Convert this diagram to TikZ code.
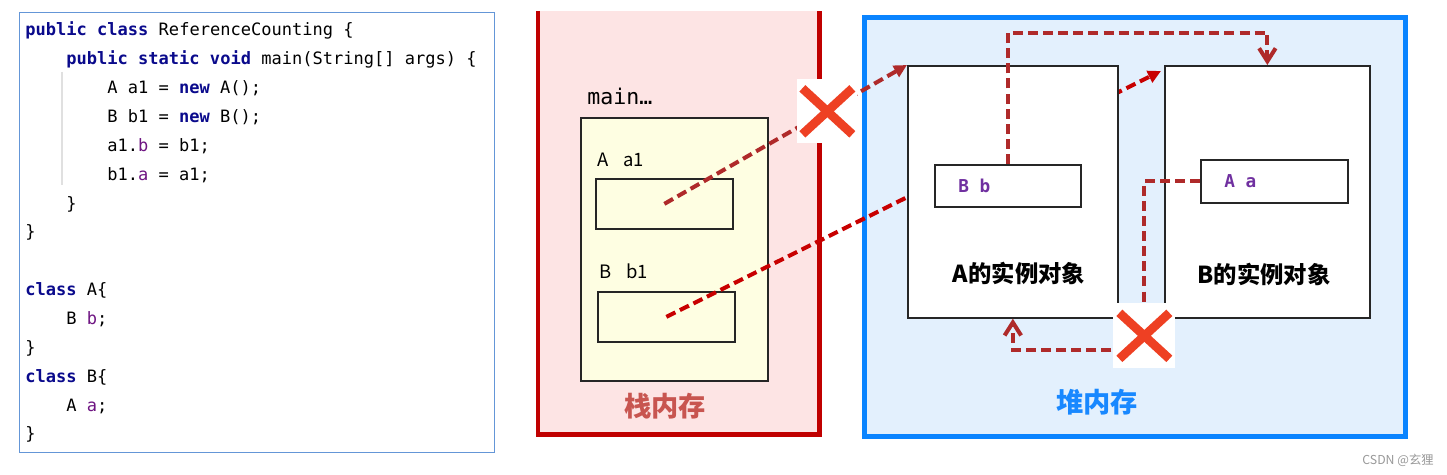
\documentclass[tikz,border=0pt]{standalone}
\usepackage{fontspec}
\setmonofont{DejaVu Sans Mono}
\newfontfamily\cjk{Noto Sans CJK SC}
\usetikzlibrary{arrows.meta, positioning, calc}

\definecolor{motcle}{RGB}{10,10,140}
\definecolor{violetchamp}{RGB}{110,20,130}
\definecolor{bordcode}{RGB}{100,150,215}
\definecolor{rougepile}{RGB}{192,0,0}
\definecolor{fondpile}{RGB}{253,228,228}
\definecolor{textepile}{RGB}{200,85,80}
\definecolor{jaunemain}{RGB}{254,254,226}
\definecolor{bleutas}{RGB}{10,132,255}
\definecolor{fondtas}{RGB}{227,240,253}
\definecolor{textetas}{RGB}{24,136,255}
\definecolor{brique}{RGB}{175,42,42}
\definecolor{rougevif}{RGB}{200,0,0}
\definecolor{croixrouge}{RGB}{238,64,35}
\definecolor{violetlabel}{RGB}{112,48,160}

\newcommand{\motcle}[1]{{\bfseries\color{motcle}#1}}
\newcommand{\attribut}[1]{{\color{violetchamp}#1}}

\begin{document}
\begin{tikzpicture}[
  x=0.02cm, y=-0.02cm,
  font=\cjk,
  zone/.style={
    anchor=north west,
    inner sep=0pt
  },
  cadrecode/.style={
    zone,
    draw=bordcode,
    line width=0.8pt
  },
  ligne/.style={
    font=\ttfamily\fontsize{9.7}{11}\selectfont,
    anchor=base west,
    inner sep=0pt
  },
  boite/.style={
    zone,
    draw=black!85,
    line width=1pt
  },
  objet/.style={
    boite,
    fill=white
  },
  etiquette/.style={
    font=\cjk\fontsize{10.5}{12}\selectfont,
    anchor=base west,
    inner sep=0pt
  },
  champ/.style={
    font=\ttfamily\bfseries\fontsize{10.1}{12}\selectfont,
    text=violetlabel,
    anchor=base west,
    inner sep=0pt
  },
  titre/.style={
    font=\cjk\bfseries\fontsize{15.5}{18}\selectfont,
    inner sep=0pt
  },
  nomobjet/.style={
    font=\cjk\bfseries\fontsize{13.3}{15}\selectfont,
    inner sep=0pt
  },
  pointille/.style={
    line width=2.3pt,
    dash pattern=on 5.7pt off 2.9pt
  },
  flechepleine/.style={
    pointille,
    -{Triangle[length=2.6mm, width=2.5mm]}
  },
  flechevide/.style={
    pointille,
    draw=brique,
    -{Straight Barb[length=2.6mm, width=3.3mm]}
  },
  croix/.style={
    draw=croixrouge,
    line width=5pt
  }
]
  \fill[white] (0,0) rectangle (1447,475);
  \useasboundingbox (0,0) rectangle (1447,475);

  \node[cadrecode, minimum width=9.5cm, minimum height=8.8cm] (code) at (19,12) {};
  \draw[black!12, line width=0.6pt] ($(code.north west)+(43,60)$) -- ++(0,113);
  \foreach \n/\x/\txt in {
      0/25/{\motcle{public} \motcle{class} ReferenceCounting \{},
      1/66/{\motcle{public} \motcle{static} \motcle{void} main(String[] args) \{},
      2/107/{A a1 = \motcle{new} A();},
      3/107/{B b1 = \motcle{new} B();},
      4/107/{a1.\attribut{b} = b1;},
      5/107/{b1.\attribut{a} = a1;},
      6/66/{\}},
      7/25/{\}},
      9/25/{\motcle{class} A\{},
      10/66/{B \attribut{b};},
      11/25/{\}},
      12/25/{\motcle{class} B\{},
      13/66/{A \attribut{a};},
      14/25/{\}}} {
    \node[ligne] (ligne\n) at (\x, 36+28.85*\n) {\txt};
  }

  \node[zone, fill=fondpile, minimum width=5.62cm, minimum height=8.45cm] (pile) at (538,11) {};
  \draw[rougepile, line width=2.8pt] (pile.north west) -- (pile.south west) -- (pile.south east) -- (pile.north east);
  \node[boite, fill=jaunemain, minimum width=3.74cm, minimum height=5.26cm] (main) at (580,117) {};
  \node[ligne, font=\ttfamily\fontsize{12.3}{14}\selectfont] (nommain) at (587,105) {main…};
  \node[etiquette] (nomA1) at (597,167) {A\hspace{0.3cm}a1};
  \node[boite, minimum width=2.74cm, minimum height=1cm] (a1) at (595,178) {};
  \node[etiquette] (nomB1) at (599,279) {B\hspace{0.3cm}b1};
  \node[boite, minimum width=2.74cm, minimum height=1cm] (b1) at (597,291) {};
  \node[titre, text=textepile] (txtpile) at (665,406) {栈内存};

  \node[zone, fill=fondtas, draw=bleutas, line width=2.8pt, minimum width=10.82cm, minimum height=8.38cm] (tas) at (862,15) {};
  \node[titre, text=textetas] (txttas) at (1097,402) {堆内存};

  \node[objet, minimum width=4.1cm, minimum height=5.04cm] (objB) at (1164,65) {};
  \node[boite, minimum width=2.94cm, minimum height=0.86cm] (Aa) at (1200,159) {};
  \node[champ] (nomAa) at (1224,188) {A a};
  \node[nomobjet] (txtB) at (1264,274) {B的实例对象};

  \draw[flechepleine, draw=rougevif] (b1.center) -- ($(objB.north west)+(-3,6)$);

  \node[objet, minimum width=4.2cm, minimum height=5.04cm] (objA) at (907,65) {};
  \node[boite, minimum width=2.92cm, minimum height=0.84cm] (Bb) at (934,164) {};
  \node[champ] (nomBb) at (958,193) {B b};
  \node[nomobjet] (txtA) at (1019,273) {A的实例对象};

  \draw[flechepleine, draw=brique] (a1.center) -- (objA.north west);
  \draw[flechevide] (Bb.north) -- ++(0,-131) -| (objB.north);
  \draw[flechevide] (Aa.west) -- ++(-56,0) |- ($(objA.south)+(0,31)$) -- (objA.south);

  \node[zone, fill=white, minimum width=1.2cm, minimum height=1.28cm] (croix1) at (797,79) {};
  \node[zone, fill=white, minimum width=1.24cm, minimum height=1.3cm] (croix2) at (1113,303) {};
  \foreach \m in {croix1, croix2} {
    \draw[croix] ($(\m.center)+(-25,-23)$) -- ($(\m.center)+(25,23)$);
    \draw[croix] ($(\m.center)+(25,-23)$) -- ($(\m.center)+(-25,23)$);
  }

  \node[font=\cjk\fontsize{7}{8}\selectfont, text=black!40, inner sep=0pt] (filigrane) at (1398,460) {CSDN @玄狸};
\end{tikzpicture}
\end{document}
